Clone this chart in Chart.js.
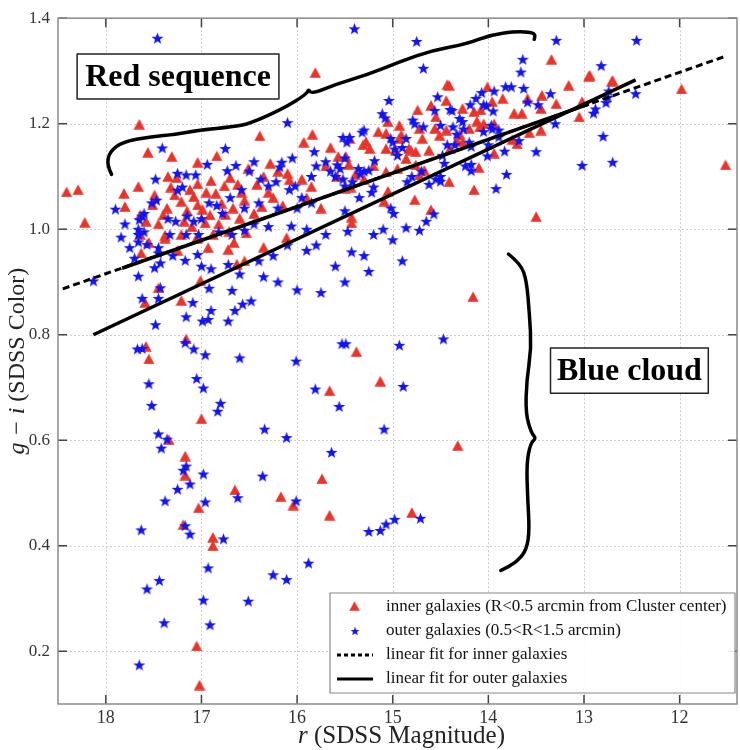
<!DOCTYPE html>
<html>
<head>
<meta charset="utf-8">
<script src="https://cdn.jsdelivr.net/npm/chart.js@4.4.1/dist/chart.umd.min.js"></script>
<style>
  html, body { margin: 0; padding: 0; background: #fff; }
  #wrap { width: 740px; height: 750px; position: relative; }
</style>
</head>
<body>
<div id="wrap"><canvas id="cmd"></canvas></div>
<script>
// r magnitude, g-i colour
const innerGalaxies = [
  [18.41,1.071],[18.29,1.075],[18.22,1.013],[17.65,1.199],[17.56,1.146],[17.31,1.138],
  [17.04,1.127],[16.84,1.139],[15.81,1.297],[13.34,1.322],[12.95,1.290],[12.71,1.280],
  [11.98,1.266],[11.52,1.122],[13.50,1.024],[14.16,0.872],[14.32,0.590],
  [17.81,1.068],[17.80,1.043],[17.66,1.081],[17.49,1.065],[17.35,1.100],[17.32,1.080],
  [17.04,1.086],[16.85,1.068],[16.51,1.115],[17.51,1.046],[17.64,1.027],[17.58,1.015],
  [17.40,1.027],[17.36,1.040],[17.28,1.065],[17.21,1.053],[17.15,1.035],[17.04,1.046],
  [16.99,1.038],[16.91,1.027],[16.79,1.049],[16.67,1.040],[16.60,1.021],[16.71,0.996],
  [16.55,1.055],[17.38,0.983],[17.21,0.990],[17.05,0.983],[16.88,0.990],[16.66,0.975],
  [17.64,0.990],[17.55,0.975],[17.63,0.955],[17.38,0.989],[17.04,0.984],[16.93,0.965],
  [16.72,0.962],[16.53,0.993],[16.55,0.940],[16.63,0.934],[17.26,1.098],[17.12,1.075],
  [17.08,1.062],[16.95,1.070],[16.90,1.092],[16.76,1.082],[16.70,1.098],[16.62,1.085],
  [16.58,1.070],[17.18,1.015],[17.10,1.005],[16.82,1.010],[16.75,1.028],[16.96,1.012],
  [17.45,1.010],[17.25,0.960],[17.45,0.889],[17.59,0.861],[17.21,0.865],[17.01,0.903],
  [17.16,0.792],[17.58,0.778],[17.55,0.754],[17.00,0.641],[17.34,0.601],[17.17,0.570],
  [17.17,0.534],[16.65,0.506],[17.03,0.472],[17.19,0.440],[16.88,0.416],[16.88,0.400],
  [17.05,0.210],[17.02,0.136],[15.38,0.768],[15.13,0.712],[15.66,0.694],[16.17,0.493],
  [16.04,0.477],[15.74,0.527],[15.66,0.458],[14.80,0.463],
  [16.39,1.177],[15.84,1.180],[15.93,1.165],[16.28,1.125],[16.10,1.106],[16.08,1.094],
  [16.20,1.110],[16.35,1.100],[16.42,1.085],[16.30,1.070],[16.25,1.060],[16.37,1.043],
  [16.45,1.030],[16.15,1.045],[15.57,1.138],[15.58,1.100],[15.39,1.104],[15.50,1.078],
  [15.44,1.080],[15.85,1.081],[15.75,1.040],[15.90,1.060],[15.95,1.095],[15.70,1.120],
  [15.65,1.155],[15.43,1.023],[15.43,1.012],[16.11,0.984],[16.35,0.966],[15.05,1.072],
  [15.09,1.053],[15.28,1.166],[15.31,1.160],[15.24,1.153],[15.45,1.172],[15.49,1.138],
  [15.46,1.123],[15.05,1.204],[15.07,1.182],[14.93,1.197],[15.15,1.185],[15.07,1.153],
  [14.93,1.172],[14.83,1.153],[14.86,1.134],[14.76,1.122],[14.67,1.112],[15.07,1.109],
  [14.95,1.115],[15.20,1.120],[15.30,1.095],[14.91,1.179],[14.97,1.150],[14.81,1.150],
  [14.72,1.103],[14.60,1.037],[14.77,1.056],[14.43,1.274],[14.44,1.244],[14.74,1.226],
  [14.55,1.213],[14.60,1.235],[14.62,1.150],[14.69,1.172],[14.72,1.191],[14.56,1.191],
  [14.44,1.188],[14.51,1.178],[14.76,1.147],[14.41,1.090],
  [14.01,1.270],[14.15,1.223],[14.27,1.229],[14.08,1.226],[13.96,1.242],[13.85,1.248],
  [13.73,1.220],[13.65,1.220],[13.59,1.248],[13.44,1.254],[13.45,1.229],[13.29,1.238],
  [13.16,1.273],[12.94,1.292],[12.70,1.282],[13.02,1.242],[13.05,1.213],[13.45,1.188],
  [13.57,1.183],[13.75,1.170],[13.70,1.162],[13.94,1.200],[13.94,1.144],[14.10,1.117],
  [14.15,1.075],[14.05,1.200],[14.09,1.194],[14.12,1.205],[14.30,1.180],[14.33,1.168],
  [14.40,1.153],[14.41,1.273],[14.20,1.191],[14.27,1.166]
];

const outerGalaxies = [
  [17.46,1.362],[15.40,1.380],[14.75,1.356],[14.68,1.305],[13.29,1.358],[12.45,1.358],
  [13.64,1.322],[13.66,1.298],[12.82,1.310],
  [17.41,1.154],[16.75,1.153],[16.94,1.123],[16.64,1.121],[17.90,1.038],[17.48,1.095],
  [17.25,1.106],[17.16,1.103],[17.06,1.103],[16.73,1.111],[17.20,1.080],[17.25,1.074],
  [17.62,1.025],[17.65,1.018],[17.60,1.030],[17.66,1.000],[17.60,0.995],[17.52,1.050],
  [17.47,1.055],[17.35,1.020],[17.27,1.015],[17.15,1.025],[17.08,1.015],[17.00,1.020],
  [16.92,1.050],[16.84,1.045],[16.78,1.030],[16.70,1.060],[16.58,1.075],[16.55,1.040],
  [17.57,0.971],[17.45,0.965],[17.33,0.990],[17.16,0.990],[17.03,0.990],[16.82,0.995],
  [16.68,0.990],[16.55,0.998],[17.80,1.010],[17.84,0.985],[17.75,0.965],[17.70,0.945],
  [18.13,0.902],[17.66,0.911],[17.62,0.869],[17.43,0.889],[17.45,0.869],[17.49,0.927],
  [17.43,0.936],[17.45,0.955],[17.66,0.976],[17.66,0.990],[17.09,0.861],[16.92,0.888],
  [17.16,0.834],[17.48,0.819],[16.99,0.826],[16.93,0.829],[16.90,0.846],[16.72,0.826],
  [16.65,0.846],[16.57,0.858],[16.68,0.884],[16.48,0.864],[17.17,0.941],[17.04,0.952],
  [16.72,0.933],[16.90,0.925],[16.60,0.915],[17.30,0.950],[17.00,0.930],
  [17.67,0.773],[17.62,0.774],[17.17,0.785],[17.08,0.773],[16.96,0.762],[16.60,0.756],
  [16.01,0.750],[15.53,0.783],[15.49,0.783],[14.93,0.780],[14.47,0.792],[17.55,0.707],
  [17.05,0.717],[16.98,0.699],[17.52,0.666],[16.80,0.670],[16.83,0.655],[15.81,0.697],
  [15.56,0.664],[14.89,0.702],[16.34,0.621],[16.11,0.605],[15.09,0.621],[17.45,0.612],
  [17.36,0.602],[17.42,0.585],[15.64,0.577],[17.16,0.551],[17.19,0.543],[16.98,0.536],
  [16.36,0.532],[17.12,0.517],[17.25,0.507],[17.38,0.485],[16.96,0.483],[16.62,0.491],
  [16.01,0.485],[17.63,0.430],[17.17,0.438],[17.12,0.422],[16.77,0.413],[15.25,0.427],
  [15.13,0.429],[15.07,0.441],[14.98,0.450],[14.71,0.452],[15.88,0.367],[16.93,0.358],
  [17.44,0.334],[17.57,0.318],[16.25,0.345],[16.11,0.336],[16.98,0.297],[16.51,0.295],
  [17.39,0.254],[16.91,0.250],[17.65,0.174],
  [16.10,1.202],[15.82,1.147],[15.80,1.120],[16.05,1.135],[16.16,1.127],[16.18,1.118],
  [16.45,1.128],[16.50,1.110],[16.38,1.095],[16.30,1.082],[16.22,1.090],[16.08,1.075],
  [16.02,1.082],[15.85,1.100],[15.70,1.128],[15.65,1.110],[15.60,1.100],[15.52,1.095],
  [15.50,1.082],[15.42,1.090],[15.36,1.115],[15.34,1.105],[15.30,1.110],[15.25,1.112],
  [15.19,1.130],[15.04,1.244],[15.11,1.219],[15.08,1.211],[15.02,1.172],[15.00,1.165],
  [14.98,1.152],[14.86,1.172],[14.95,1.140],[14.90,1.155],[15.30,1.188],[15.32,1.184],
  [15.45,1.174],[15.52,1.174],[15.48,1.165],[15.50,1.135],[15.58,1.122],[15.55,1.115],
  [14.79,1.207],[14.77,1.200],[14.68,1.194],[14.50,1.197],[14.53,1.251],[14.40,1.227],
  [14.38,1.225],[14.56,1.225],[14.62,1.085],[14.55,1.095],[14.50,1.100],[14.48,1.140],
  [14.43,1.160],[14.46,1.125],[14.70,1.110],[14.85,1.090],[14.80,1.100],[15.20,1.080],
  [15.22,1.070],[15.35,1.060],[15.95,1.060],[15.85,1.050],[16.00,1.040],[16.20,1.040],
  [16.40,1.050],[16.45,1.010],[16.30,1.005],[16.06,1.006],[15.90,1.000],[15.70,0.990],
  [15.50,1.035],[15.47,0.996],[15.43,0.957],[15.80,0.970],[15.90,0.960],[16.10,0.970],
  [16.25,0.950],[16.40,0.940],[16.35,0.910],[16.20,0.900],[15.60,0.930],[15.30,0.950],
  [15.20,0.990],[15.10,1.000],[14.99,1.030],[15.02,1.040],[14.86,1.003],[14.72,0.998],
  [14.65,1.015],[14.57,1.029],[14.50,1.091],[15.00,0.980],[15.25,0.920],[15.50,0.900],
  [15.75,0.880],[16.00,0.885],[14.90,0.940],
  [13.63,1.267],[13.82,1.270],[13.76,1.270],[13.94,1.262],[14.07,1.259],[14.13,1.248],
  [14.19,1.236],[14.05,1.236],[14.02,1.234],[13.95,1.224],[14.30,1.210],[14.27,1.204],
  [14.37,1.194],[13.97,1.197],[13.96,1.190],[13.89,1.188],[13.89,1.175],[13.59,1.241],
  [13.48,1.236],[13.35,1.257],[13.30,1.200],[13.68,1.168],[13.83,1.148],[14.01,1.139],
  [14.20,1.165],[14.18,1.157],[14.35,1.160],[14.26,1.190],[14.33,1.180],[14.18,1.123],
  [14.18,1.111],[14.24,1.120],[14.05,1.185],[14.00,1.160],[13.50,1.147],[13.81,1.104],
  [13.92,1.077],[13.02,1.121],[12.70,1.127],[12.80,1.176],[12.90,1.220],[12.88,1.228],
  [12.77,1.240],[12.75,1.250],[12.74,1.262],[12.46,1.257]
];

// fitted lines, end points
const innerFit = [[18.45, 0.887], [11.52, 1.328]];
const outerFit = [[18.13, 0.800], [12.46, 1.283]];
const overlapFit = [[17.83, 0.926], [12.95, 1.237]];

const xTicks = [18, 17, 16, 15, 14, 13, 12];
const yTicks = [0.2, 0.4, 0.6, 0.8, 1.0, 1.2, 1.4];

// hand-drawn braces, in data units
const redBrace = [
  [17.94,1.104],[17.99,1.122],[17.96,1.147],[17.82,1.166],[17.54,1.175],[17.30,1.179],
  [17.02,1.188],[16.67,1.194],[16.50,1.200],[16.15,1.228],[15.90,1.256],[15.88,1.266],
  [15.85,1.256],[15.59,1.275],[15.28,1.292],[14.93,1.317],[14.59,1.339],[14.23,1.351],
  [13.99,1.368],[13.71,1.375],[13.54,1.373],[13.51,1.368],[13.52,1.360]
];
const blueBrace = [
  [13.79,0.953],[13.66,0.934],[13.60,0.902],[13.57,0.839],[13.55,0.775],[13.60,0.713],
  [13.61,0.651],[13.55,0.613],[13.50,0.604],[13.56,0.594],[13.60,0.556],[13.59,0.492],
  [13.57,0.430],[13.60,0.392],[13.71,0.368],[13.87,0.353]
];
const boxes = [
  { text: "Red sequence", r: [18.30, 16.19], gi: [1.332, 1.247] },
  { text: "Blue cloud", r: [13.35, 11.70], gi: [0.775, 0.689] }
];

const RED = "#e8352b";
const BLUE = "#1414f0";
const SERIF = "'Liberation Serif', 'DejaVu Serif', serif";

function makeTriangle(color) {
  const c = document.createElement("canvas");
  c.width = 12; c.height = 11;
  const g = c.getContext("2d");
  g.fillStyle = color;
  g.beginPath();
  g.moveTo(6, 0.3); g.lineTo(11.7, 10.7); g.lineTo(0.3, 10.7);
  g.closePath(); g.fill();
  return c;
}

function makeStar(color) {
  const c = document.createElement("canvas");
  c.width = 13; c.height = 13;
  const g = c.getContext("2d");
  g.fillStyle = color;
  g.beginPath();
  for (let i = 0; i < 10; i++) {
    const rad = i % 2 ? 2.6 : 6.3;
    const a = -Math.PI / 2 + i * Math.PI / 5;
    const x = 6.5 + rad * Math.cos(a), y = 7 + rad * Math.sin(a);
    if (i) g.lineTo(x, y); else g.moveTo(x, y);
  }
  g.closePath(); g.fill();
  return c;
}

const triImg = makeTriangle(RED);
const starImg = makeStar(BLUE);

const toXY = arr => arr.map(([r, gi]) => ({ x: r, y: gi }));

/* grid, frame, inward ticks */
const framePlugin = {
  id: "frame",
  beforeDatasetsDraw(chart) {
    const { ctx, chartArea: a, scales: { x, y } } = chart;
    ctx.save();
    ctx.strokeStyle = "#cfcfcf";
    ctx.lineWidth = 1;
    ctx.setLineDash([2, 2]);
    xTicks.forEach(v => {
      const px = Math.round(x.getPixelForValue(v)) + 0.5;
      ctx.beginPath(); ctx.moveTo(px, a.top); ctx.lineTo(px, a.bottom); ctx.stroke();
    });
    yTicks.forEach(v => {
      const py = Math.round(y.getPixelForValue(v)) + 0.5;
      ctx.beginPath(); ctx.moveTo(a.left, py); ctx.lineTo(a.right, py); ctx.stroke();
    });
    ctx.restore();
  },
  afterDatasetsDraw(chart) {
    const { ctx, chartArea: a, scales: { x, y } } = chart;
    ctx.save();
    ctx.strokeStyle = "#444";
    ctx.lineWidth = 1.5;
    xTicks.forEach(v => {
      const px = x.getPixelForValue(v);
      ctx.beginPath(); ctx.moveTo(px, a.bottom); ctx.lineTo(px, a.bottom - 9); ctx.stroke();
      ctx.beginPath(); ctx.moveTo(px, a.top); ctx.lineTo(px, a.top + 9); ctx.stroke();
    });
    yTicks.forEach(v => {
      const py = y.getPixelForValue(v);
      ctx.beginPath(); ctx.moveTo(a.left, py); ctx.lineTo(a.left + 9, py); ctx.stroke();
      ctx.beginPath(); ctx.moveTo(a.right, py); ctx.lineTo(a.right - 9, py); ctx.stroke();
    });
    ctx.strokeStyle = "#8a8a8a";
    ctx.strokeRect(a.left, a.top, a.right - a.left, a.bottom - a.top);
    ctx.restore();
  }
};

/* braces, labelled boxes, legend, axis titles */
function smoothPath(ctx, pts) {
  ctx.beginPath();
  ctx.moveTo(pts[0][0], pts[0][1]);
  for (let i = 1; i < pts.length - 1; i++) {
    const mx = (pts[i][0] + pts[i + 1][0]) / 2;
    const my = (pts[i][1] + pts[i + 1][1]) / 2;
    ctx.quadraticCurveTo(pts[i][0], pts[i][1], mx, my);
  }
  const last = pts[pts.length - 1];
  ctx.lineTo(last[0], last[1]);
  ctx.stroke();
}

const annotatePlugin = {
  id: "annotate",
  afterDraw(chart) {
    const { ctx, chartArea: a, scales: { x, y } } = chart;
    const px = p => [x.getPixelForValue(p[0]), y.getPixelForValue(p[1])];
    ctx.save();

    // braces
    ctx.strokeStyle = "#000";
    ctx.lineWidth = 3.5;
    ctx.lineCap = "round";
    ctx.lineJoin = "round";
    smoothPath(ctx, redBrace.map(px));
    smoothPath(ctx, blueBrace.map(px));

    // boxed labels
    boxes.forEach(b => {
      const x1 = x.getPixelForValue(b.r[0]), x2 = x.getPixelForValue(b.r[1]);
      const y1 = y.getPixelForValue(b.gi[0]), y2 = y.getPixelForValue(b.gi[1]);
      ctx.fillStyle = "#fff";
      ctx.fillRect(x1, y1, x2 - x1, y2 - y1);
      ctx.strokeStyle = "#222";
      ctx.lineWidth = 1.5;
      ctx.strokeRect(x1, y1, x2 - x1, y2 - y1);
      ctx.fillStyle = "#000";
      ctx.font = "bold 32px " + SERIF;
      ctx.textAlign = "center";
      ctx.textBaseline = "middle";
      ctx.fillText(b.text, (x1 + x2) / 2, (y1 + y2) / 2 + 1);
    });

    // legend
    const lx = 330, ly = 593, lw = a.right - 2 - lx, lh = 100;
    ctx.fillStyle = "rgba(255,255,255,0.9)";
    ctx.fillRect(lx, ly, lw, lh);
    ctx.strokeStyle = "#888";
    ctx.lineWidth = 1.2;
    ctx.strokeRect(lx, ly, lw, lh);
    const rows = [
      { label: "inner galaxies (R<0.5 arcmin from Cluster center)", kind: "tri" },
      { label: "outer galaxies (0.5<R<1.5 arcmin)", kind: "star" },
      { label: "linear fit for inner galaxies", kind: "dash" },
      { label: "linear fit for outer galaxies", kind: "solid" }
    ];
    rows.forEach((row, i) => {
      const cy = ly + 14 + i * 24;
      if (row.kind === "tri") ctx.drawImage(triImg, 349, cy - 6, 11, 10);
      if (row.kind === "star") ctx.drawImage(starImg, 350, cy - 5, 10, 10);
      if (row.kind === "dash" || row.kind === "solid") {
        ctx.strokeStyle = "#000";
        ctx.lineWidth = 3;
        ctx.lineCap = "butt";
        ctx.setLineDash(row.kind === "dash" ? [4, 3] : []);
        ctx.beginPath(); ctx.moveTo(337, cy); ctx.lineTo(373, cy); ctx.stroke();
        ctx.setLineDash([]);
      }
      ctx.fillStyle = "#111";
      ctx.font = "17px " + SERIF;
      ctx.textAlign = "left";
      ctx.textBaseline = "middle";
      ctx.fillText(row.label, 386, cy);
    });

    // axis titles, with italic symbols
    const drawMixed = (parts, cx, cy) => {
      let total = 0;
      parts.forEach(p => { ctx.font = p.font; total += ctx.measureText(p.t).width; });
      let cur = cx - total / 2;
      parts.forEach(p => {
        ctx.font = p.font;
        ctx.fillText(p.t, cur, cy);
        cur += ctx.measureText(p.t).width;
      });
    };
    ctx.fillStyle = "#222";
    ctx.textAlign = "left";
    ctx.textBaseline = "alphabetic";
    drawMixed([
      { t: "r", font: "italic 25px " + SERIF },
      { t: " (SDSS Magnitude)", font: "25px " + SERIF }
    ], (a.left + a.right) / 2 + 4, 743);

    ctx.save();
    ctx.translate(24, (a.top + a.bottom) / 2);
    ctx.rotate(-Math.PI / 2);
    drawMixed([
      { t: "g \u2212 i", font: "italic 24px " + SERIF },
      { t: " (SDSS Color)", font: "24px " + SERIF }
    ], 0, 0);
    ctx.restore();

    ctx.restore();
  }
};

new Chart(document.getElementById("cmd"), {
  type: "scatter",
  data: {
    datasets: [
      {
        label: "linear fit for outer galaxies",
        type: "line", showLine: true,
        data: toXY(outerFit),
        borderColor: "#000", borderWidth: 3.5, pointRadius: 0, order: 0
      },
      {
        label: "overlap",
        type: "line", showLine: true,
        data: toXY(overlapFit),
        borderColor: "#000", borderWidth: 3.5, pointRadius: 0, order: 0
      },
      {
        label: "linear fit for inner galaxies",
        type: "line", showLine: true,
        data: toXY(innerFit),
        borderColor: "#000", borderWidth: 3, borderDash: [7, 4], pointRadius: 0, order: 0
      },
      {
        label: "outer galaxies (0.5<R<1.5 arcmin)",
        data: toXY(outerGalaxies),
        pointStyle: starImg, pointRadius: 6, order: 1
      },
      {
        label: "inner galaxies (R<0.5 arcmin from Cluster center)",
        data: toXY(innerGalaxies),
        pointStyle: triImg, pointRadius: 6, order: 2
      }
    ]
  },
  options: {
    responsive: true,
    maintainAspectRatio: false,
    animation: false,
    events: [],
    layout: { padding: { top: 16, right: 3, left: 0, bottom: 0 }, autoPadding: false },
    plugins: { legend: { display: false }, tooltip: { enabled: false } },
    scales: {
      x: {
        type: "linear", min: 11.4, max: 18.5, reverse: true,
        afterBuildTicks: s => { s.ticks = xTicks.map(v => ({ value: v })); },
        afterFit: s => { s.height = 46; },
        grid: { display: false, drawTicks: false, tickLength: 0 }, border: { display: false },
        ticks: {
          font: { family: SERIF, size: 18 }, color: "#333", padding: 3,
          maxRotation: 0, autoSkip: false, callback: v => String(v)
        }
      },
      y: {
        type: "linear", min: 0.1, max: 1.4,
        afterBuildTicks: s => { s.ticks = yTicks.map(v => ({ value: v })); },
        afterFit: s => { s.width = 58; },
        grid: { display: false, drawTicks: false, tickLength: 0 }, border: { display: false },
        ticks: {
          font: { family: SERIF, size: 17 }, color: "#333", padding: 8,
          autoSkip: false, callback: v => Number(v).toFixed(1)
        }
      }
    }
  },
  plugins: [framePlugin, annotatePlugin]
});
</script>
</body>
</html>
